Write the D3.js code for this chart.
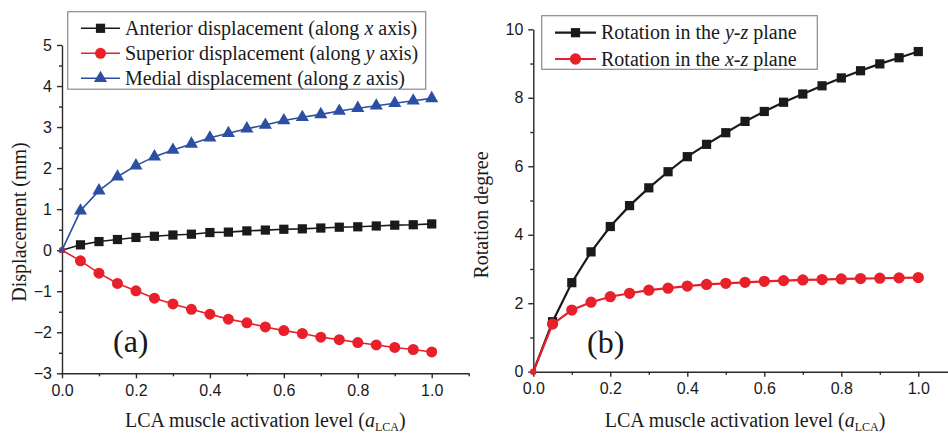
<!DOCTYPE html>
<html>
<head>
<meta charset="utf-8">
<script src="https://cdn.jsdelivr.net/npm/d3@7/dist/d3.min.js"></script>
<style>
  body { margin: 0; background: #fff; }
  svg { display: block; }
  .tick text { font-family: "Liberation Sans", Arial, sans-serif; font-size: 16px; fill: #1a1a1a; }
  .tick line, .domain { stroke: #2a2a2a; stroke-width: 1.4; }
  .serif { font-family: "Liberation Serif", "Times New Roman", serif; fill: #1a1a1a; }
</style>
</head>
<body>
<svg id="chart" width="948" height="436"></svg>
<script>
// activation level a_LCA (x values shared by both panels)
const activation = [0, 0.05, 0.1, 0.15, 0.2, 0.25, 0.3, 0.35, 0.4, 0.45, 0.5,
                    0.55, 0.6, 0.65, 0.7, 0.75, 0.8, 0.85, 0.9, 0.95, 1.0];

// panel (a) displacement, mm
const anteriorX = [0, 0.13, 0.21, 0.26, 0.31, 0.34, 0.37, 0.39, 0.43, 0.44, 0.47,
                   0.49, 0.51, 0.52, 0.54, 0.56, 0.57, 0.59, 0.61, 0.62, 0.64];
const superiorY = [0, -0.26, -0.56, -0.81, -0.99, -1.17, -1.31, -1.44, -1.56, -1.68, -1.77,
                   -1.87, -1.96, -2.03, -2.12, -2.18, -2.25, -2.31, -2.37, -2.42, -2.48];
const medialZ   = [0, 0.96, 1.45, 1.79, 2.06, 2.28, 2.44, 2.59, 2.74, 2.85, 2.96,
                   3.05, 3.16, 3.24, 3.31, 3.39, 3.46, 3.52, 3.58, 3.64, 3.70];

// panel (b) rotation, degree
const rotationYZ = [0, 1.46, 2.60, 3.50, 4.24, 4.85, 5.37, 5.84, 6.28, 6.64, 6.98,
                    7.31, 7.60, 7.87, 8.11, 8.35, 8.58, 8.79, 8.99, 9.17, 9.35];
const rotationXZ = [0, 1.39, 1.80, 2.03, 2.19, 2.29, 2.38, 2.44, 2.50, 2.55, 2.58,
                    2.61, 2.64, 2.66, 2.68, 2.69, 2.71, 2.72, 2.73, 2.74, 2.75];

// tick values
const xMajorTicks = [0, 0.2, 0.4, 0.6, 0.8, 1.0];
const xMinorTicks = [0.1, 0.3, 0.5, 0.7, 0.9, 1.1];
const dispMajorTicks = [-3, -2, -1, 0, 1, 2, 3, 4, 5];
const dispMinorTicks = [-2.5, -1.5, -0.5, 0.5, 1.5, 2.5, 3.5, 4.5];
const rotMajorTicks = [0, 2, 4, 6, 8, 10];
const rotMinorTicks = [1, 3, 5, 7, 9];

// legend labels: [text, italic]
const legendA = [
  [["Anterior displacement (along ", false], ["x", true], [" axis)", false]],
  [["Superior displacement (along ", false], ["y", true], [" axis)", false]],
  [["Medial displacement (along ", false], ["z", true], [" axis)", false]]
];
const legendB = [
  [["Rotation in the ", false], ["y-z", true], [" plane", false]],
  [["Rotation in the ", false], ["x-z", true], [" plane", false]]
];

const BLACK = "#1a1a1a", RED = "#e8202a", BLUE = "#2c4fa3";

const svg = d3.select("#chart");

function drawPanel(p) {
  const g = svg.append("g");
  const x = d3.scaleLinear().domain([0, 1.1]).range(p.xRange);
  const y = d3.scaleLinear().domain(p.yDomain).range(p.yRange);
  const x0 = p.yRange[0], yx = p.xRange[0];

  // minor ticks
  g.append("g").attr("transform", `translate(0,${x0})`)
    .call(d3.axisBottom(x).tickValues(xMinorTicks).tickSize(3).tickFormat(""))
    .call(s => s.select(".domain").remove());
  g.append("g").attr("transform", `translate(${yx},0)`)
    .call(d3.axisLeft(y).tickValues(p.yMinor).tickSize(3).tickFormat(""))
    .call(s => s.select(".domain").remove());

  // major ticks + axis lines
  g.append("g").attr("transform", `translate(0,${x0})`)
    .call(d3.axisBottom(x).tickValues(xMajorTicks).tickSizeInner(5).tickSizeOuter(0)
      .tickPadding(6).tickFormat(d3.format(".1f")));
  g.append("g").attr("transform", `translate(${yx},0)`)
    .call(d3.axisLeft(y).tickValues(p.yMajor).tickSizeInner(5).tickSizeOuter(0)
      .tickPadding(5).tickFormat(d3.format("d")));

  // series
  p.series.forEach(s => {
    const pts = activation.map((a, i) => [a, s.values[i]]);
    g.append("path").datum(pts)
      .attr("fill", "none").attr("stroke", s.color).attr("stroke-width", s.width)
      .attr("d", d3.line().x(d => x(d[0])).y(d => y(d[1])));
    g.selectAll(null).data(pts).enter().append("path")
      .attr("transform", d => `translate(${x(d[0])},${y(d[1])})`)
      .attr("fill", s.color)
      .attr("d", d => d3.symbol().type(s.symbol).size(d[0] === 0 ? s.size * 0.3 : s.size)());
  });

  // legend
  const L = p.legend;
  g.append("rect").attr("x", L.x).attr("y", L.y).attr("width", L.w).attr("height", L.h)
    .attr("fill", "#fff").attr("stroke", "#8a8a8a").attr("stroke-width", 1.2);
  p.series.forEach((s, i) => {
    const ry = L.row0 + i * L.dy;
    g.append("line").attr("x1", L.lx1).attr("x2", L.lx2).attr("y1", ry).attr("y2", ry)
      .attr("stroke", s.color).attr("stroke-width", s.width);
    g.append("path").attr("transform", `translate(${(L.lx1 + L.lx2) / 2},${ry})`)
      .attr("fill", s.color).attr("d", d3.symbol().type(s.symbol).size(s.size)());
    const t = g.append("text").attr("class", "serif").attr("x", L.tx).attr("y", ry + 6.5)
      .attr("font-size", 20);
    L.labels[i].forEach(([str, it]) => {
      t.append("tspan").text(str).attr("font-style", it ? "italic" : null);
    });
  });

  // axis titles
  const xt = g.append("text").attr("class", "serif").attr("font-size", 20)
    .attr("text-anchor", "middle")
    .attr("x", (p.xRange[0] + p.xRange[1]) / 2).attr("y", 427);
  xt.append("tspan").text("LCA muscle activation level (");
  xt.append("tspan").attr("font-style", "italic").text("a");
  xt.append("tspan").attr("font-size", 12).attr("dy", 4).text("LCA");
  xt.append("tspan").attr("dy", -4).text(")");

  g.append("text").attr("class", "serif").attr("font-size", 20)
    .attr("text-anchor", "middle")
    .attr("transform", `translate(${p.yTitle[0]},${p.yTitle[1]}) rotate(-90)`)
    .text(p.yLabel);

  g.append("text").attr("class", "serif").attr("font-size", 32)
    .attr("x", p.tag[0]).attr("y", p.tag[1]).text(p.tagText);
}

drawPanel({
  xRange: [62, 468.7],
  yDomain: [-3, 5], yRange: [373.3, 45],
  yMajor: dispMajorTicks, yMinor: dispMinorTicks,
  series: [
    { values: anteriorX, color: BLACK, symbol: d3.symbolSquare, size: 85, width: 1.6 },
    { values: superiorY, color: RED, symbol: d3.symbolCircle, size: 95, width: 1.6 },
    { values: medialZ, color: BLUE, symbol: d3.symbolTriangle, size: 75, width: 1.6 }
  ],
  legend: { x: 67.7, y: 11.7, w: 358, h: 77.5, row0: 28.3, dy: 25,
            lx1: 81, lx2: 120, tx: 125, labels: legendA },
  yLabel: "Displacement (mm)", yTitle: [26, 222],
  tag: [113, 352], tagText: "(a)"
});

drawPanel({
  xRange: [533.3, 956.8],
  yDomain: [0, 10], yRange: [371.7, 29.3],
  yMajor: rotMajorTicks, yMinor: rotMinorTicks,
  series: [
    { values: rotationYZ, color: BLACK, symbol: d3.symbolSquare, size: 85, width: 2.2 },
    { values: rotationXZ, color: RED, symbol: d3.symbolCircle, size: 100, width: 2.2 }
  ],
  legend: { x: 541.7, y: 15.7, w: 275.6, h: 53.6, row0: 32.7, dy: 26.3,
            lx1: 555, lx2: 596, tx: 601, labels: legendB },
  yLabel: "Rotation degree", yTitle: [488, 215],
  tag: [587, 353], tagText: "(b)"
});
</script>
</body>
</html>
